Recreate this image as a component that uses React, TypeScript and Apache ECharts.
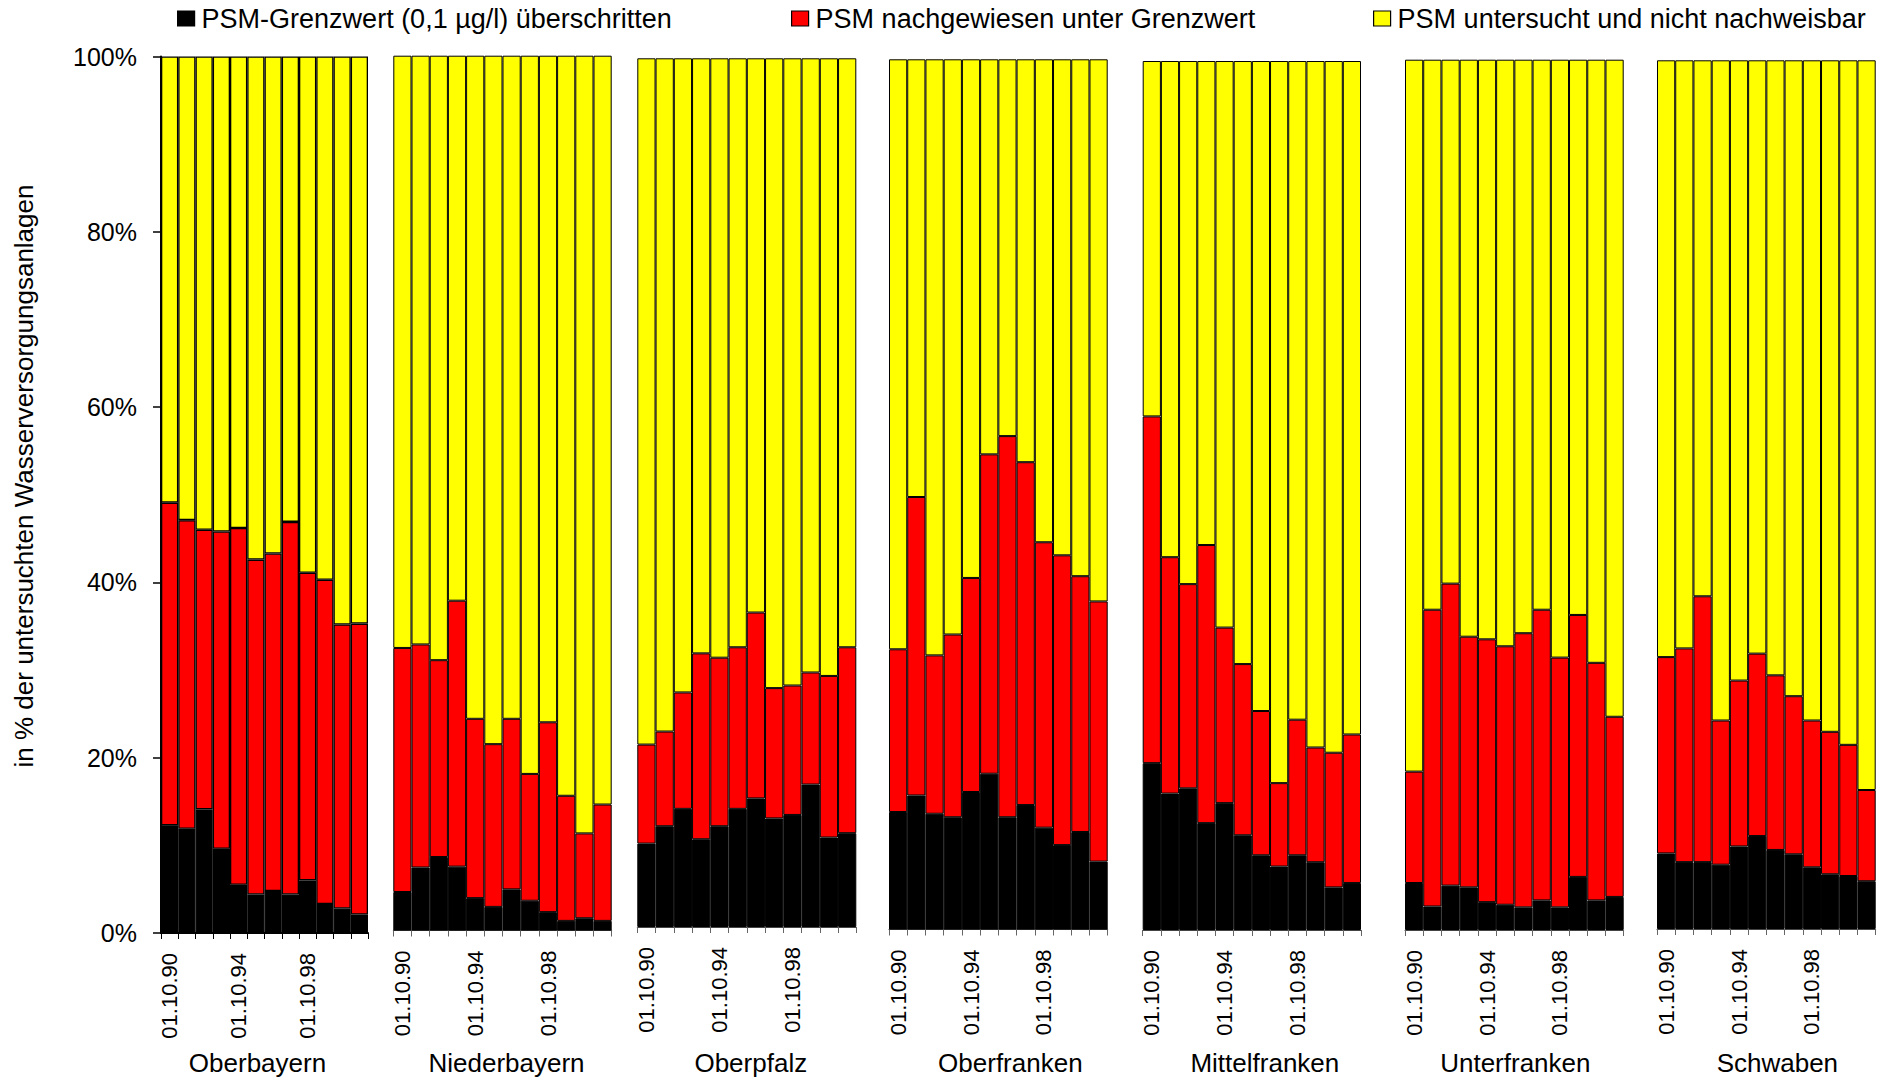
import React, { useEffect, useRef } from "react";
import * as echarts from "echarts";

const YEARS = ["01.10.90", "01.10.91", "01.10.92", "01.10.93", "01.10.94", "01.10.95", "01.10.96", "01.10.97", "01.10.98", "01.10.99", "01.10.00", "01.10.01"];
const REGIONS = ["Oberbayern", "Niederbayern", "Oberpfalz", "Oberfranken", "Mittelfranken", "Unterfranken", "Schwaben"];
const SERIES_NAMES = ["PSM-Grenzwert (0,1 µg/l) überschritten", "PSM nachgewiesen unter Grenzwert", "PSM untersucht und nicht nachweisbar"];
const Y_TICKS = [0, 20, 40, 60, 80, 100];

// values in % of examined water supply plants (black = above limit, red = detected below limit, yellow = not detectable)
const OBB_BLACK = [12.3, 11.9, 14.1, 9.6, 5.5, 4.4, 4.8, 4.4, 6.0, 3.3, 2.8, 2.1];
const OBB_RED = [36.8, 35.2, 31.9, 36.2, 40.7, 38.2, 38.5, 42.5, 35.1, 37.0, 32.4, 33.2];
const OBB_YELLOW = [50.9, 52.9, 54.0, 54.2, 53.8, 57.4, 56.7, 53.1, 58.9, 59.7, 64.8, 64.7];

const NDB_BLACK = [4.4, 7.2, 8.4, 7.3, 3.7, 2.7, 4.7, 3.4, 2.1, 1.1, 1.4, 1.1];
const NDB_RED = [27.9, 25.5, 22.5, 30.4, 20.5, 18.6, 19.5, 14.5, 21.7, 14.3, 9.7, 13.3];
const NDB_YELLOW = [67.7, 67.3, 69.1, 62.3, 75.8, 78.7, 75.8, 82.1, 76.2, 84.6, 88.9, 85.6];

const OPF_BLACK = [9.6, 11.6, 13.6, 10.1, 11.6, 13.6, 14.8, 12.5, 12.9, 16.4, 10.3, 10.8];
const OPF_RED = [11.4, 10.9, 13.4, 21.4, 19.4, 18.6, 21.4, 15.0, 14.9, 12.9, 18.6, 21.4];
const OPF_YELLOW = [79.0, 77.5, 73.0, 68.5, 69.0, 67.8, 63.8, 72.5, 72.2, 70.7, 71.1, 67.8];

const OFR_BLACK = [13.5, 15.4, 13.3, 12.9, 15.8, 17.9, 12.9, 14.3, 11.7, 9.7, 11.2, 7.8];
const OFR_RED = [18.7, 34.3, 18.2, 21.0, 24.6, 36.7, 43.8, 39.4, 32.8, 33.3, 29.4, 29.9];
const OFR_YELLOW = [67.8, 50.3, 68.5, 66.1, 59.6, 45.4, 43.3, 46.3, 55.5, 57.0, 59.4, 62.3];

const MFR_BLACK = [19.2, 15.7, 16.3, 12.3, 14.6, 10.9, 8.6, 7.3, 8.6, 7.8, 4.9, 5.4];
const MFR_RED = [39.9, 27.2, 23.5, 32.0, 20.2, 19.7, 16.6, 9.6, 15.6, 13.2, 15.5, 17.1];
const MFR_YELLOW = [40.9, 57.1, 60.2, 55.7, 65.2, 69.4, 74.8, 83.1, 75.8, 79.0, 79.6, 77.5];

const UFR_BLACK = [5.4, 2.7, 5.1, 4.9, 3.2, 2.9, 2.6, 3.4, 2.6, 6.1, 3.4, 3.8];
const UFR_RED = [12.8, 34.1, 34.7, 28.8, 30.2, 29.7, 31.5, 33.4, 28.7, 30.1, 27.3, 20.7];
const UFR_YELLOW = [81.8, 63.2, 60.2, 66.3, 66.6, 67.4, 65.9, 63.2, 68.7, 63.8, 69.3, 75.5];

const SCHW_BLACK = [8.7, 7.7, 7.7, 7.4, 9.5, 10.7, 9.1, 8.6, 7.1, 6.3, 6.1, 5.5];
const SCHW_RED = [22.6, 24.6, 30.6, 16.6, 19.1, 21.0, 20.1, 18.2, 16.9, 16.4, 15.1, 10.5];
const SCHW_YELLOW = [68.7, 67.7, 61.7, 76.0, 71.4, 68.3, 70.8, 73.2, 76.0, 77.3, 78.8, 84.0];

const BLACK_SETS = [OBB_BLACK, NDB_BLACK, OPF_BLACK, OFR_BLACK, MFR_BLACK, UFR_BLACK, SCHW_BLACK];
const RED_SETS = [OBB_RED, NDB_RED, OPF_RED, OFR_RED, MFR_RED, UFR_RED, SCHW_RED];
const YELLOW_SETS = [OBB_YELLOW, NDB_YELLOW, OPF_YELLOW, OFR_YELLOW, MFR_YELLOW, UFR_YELLOW, SCHW_YELLOW];

// panel layout (pixels)
const PANELS = [
  { left: 161, width: 207, top: 56.5, bottom: 943, nameShift: -7 },
  { left: 393.3, width: 218.4, top: 55.7, bottom: 940.5, nameShift: 4 },
  { left: 637.3, width: 219, top: 58.3, bottom: 937, nameShift: 4 },
  { left: 889, width: 218.7, top: 59.3, bottom: 939.5, nameShift: 12 },
  { left: 1142.7, width: 218.3, top: 61, bottom: 940, nameShift: 13 },
  { left: 1405, width: 218.7, top: 59.7, bottom: 940, nameShift: 1 },
  { left: 1657, width: 218.7, top: 60.3, bottom: 939, nameShift: 11 },
];
const LEGEND_LEFT = [177, 791, 1373];
const COLORS = ["#000000", "#ff0000", "#ffff00"];
const FONT = "'Liberation Sans', Arial, sans-serif";

export default function App() {
  const ref = useRef<HTMLDivElement>(null);

  useEffect(() => {
    if (!ref.current) return;
    const chart = echarts.init(ref.current, undefined, { renderer: "svg" });

    const grid = PANELS.map((p) => ({
      left: p.left,
      top: p.top,
      width: p.width,
      height: p.bottom - p.top,
      containLabel: false,
    }));

    const xAxis = PANELS.map((p, i) => ({
      type: "category",
      gridIndex: i,
      data: YEARS,
      name: REGIONS[i],
      nameLocation: "middle",
      nameGap: 1060 - p.bottom,
      nameTextStyle: {
        fontSize: 26,
        color: "#000",
        fontFamily: FONT,
        padding: p.nameShift >= 0 ? [0, 0, 0, 2 * p.nameShift] : [0, -2 * p.nameShift, 0, 0],
      },
      axisLine: { show: true, lineStyle: { color: i === 0 ? "#000" : "#444", width: i === 0 ? 2 : 1 } },
      axisTick: { show: true, interval: 0, length: 6, lineStyle: { color: i === 0 ? "#000" : "#666", width: 1 } },
      axisLabel: {
        interval: 3,
        rotate: 90,
        fontSize: 22,
        color: "#000",
        fontFamily: FONT,
        margin: 20,
      },
      splitLine: { show: false },
    }));

    const yAxis = PANELS.map((p, i) => ({
      type: "value",
      gridIndex: i,
      min: 0,
      max: 100,
      interval: 20,
      show: i === 0,
      axisLine: { show: true, lineStyle: { color: "#000", width: 2 } },
      axisTick: { show: true, length: 8, lineStyle: { color: "#000", width: 1.5 } },
      axisLabel: {
        formatter: (v: number) => (Y_TICKS.includes(v) ? v + "%" : ""),
        fontSize: 25,
        color: "#000",
        fontFamily: FONT,
        margin: 24,
      },
      splitLine: { show: false },
    }));

    const series: any[] = [];
    PANELS.forEach((p, i) => {
      const sets = [BLACK_SETS[i], RED_SETS[i], YELLOW_SETS[i]];
      sets.forEach((data, k) => {
        series.push({
          type: "bar",
          name: SERIES_NAMES[k],
          stack: "panel" + i,
          xAxisIndex: i,
          yAxisIndex: i,
          data,
          barCategoryGap: "0%",
          itemStyle: { color: COLORS[k], borderColor: "#000", borderWidth: i === 0 ? 1.3 : 1 },
          emphasis: { disabled: true },
        });
      });
    });

    const legend = SERIES_NAMES.map((n, k) => ({
      data: [{ name: n, icon: "rect" }],
      left: LEGEND_LEFT[k],
      top: 5,
      padding: 0,
      itemWidth: 17,
      itemHeight: 15,
      itemGap: 5,
      selectedMode: false,
      itemStyle: { borderColor: "#000", borderWidth: 1.2 },
      textStyle: { fontSize: 27, color: "#000", fontFamily: FONT, padding: [0, 0, 0, 2] },
    }));

    chart.setOption({
      animation: false,
      backgroundColor: "#ffffff",
      textStyle: { fontFamily: FONT },
      legend,
      grid,
      xAxis,
      yAxis,
      series,
      graphic: [
        {
          type: "text",
          x: 24,
          y: 476,
          rotation: Math.PI / 2,
          style: {
            text: "in % der untersuchten Wasserversorgungsanlagen",
            fontSize: 26,
            fontFamily: FONT,
            fill: "#000",
            align: "center",
            verticalAlign: "middle",
          },
        },
      ],
    });

    return () => chart.dispose();
  }, []);

  return (
    <div
      ref={ref}
      style={{ position: "absolute", left: 0, top: 0, width: 1888, height: 1081, background: "#fff" }}
    />
  );
}
